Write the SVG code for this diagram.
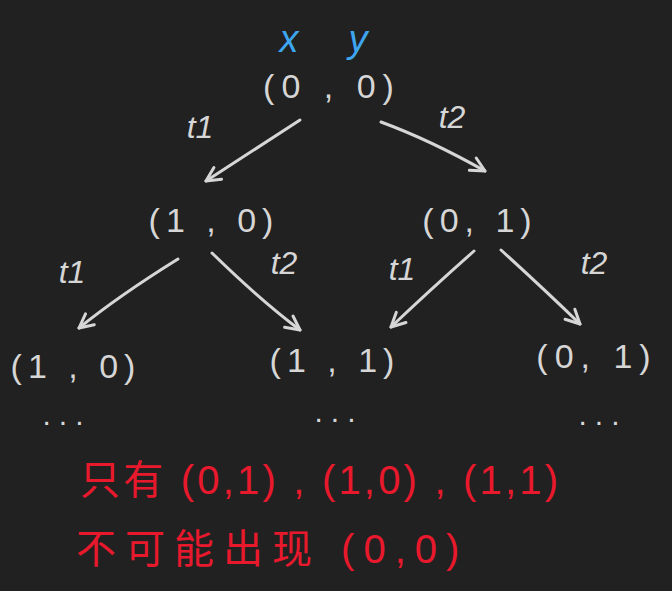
<svg xmlns="http://www.w3.org/2000/svg" width="672" height="591" viewBox="0 0 672 591">
<style>
.bg{fill:#212121}
.n{font-family:"Liberation Sans","Noto Sans",sans-serif;font-size:34px;fill:#d6d6d6;text-anchor:middle}
.lbl{font-family:"Liberation Sans","Noto Sans",sans-serif;font-size:32px;fill:#d6d6d6;text-anchor:middle;font-style:italic}
.ax{font-family:"Liberation Sans","Noto Sans",sans-serif;font-size:38px;fill:#3ea6f0;text-anchor:middle;font-style:italic}
.dots{font-family:"Liberation Sans",sans-serif;font-size:30px;fill:#d6d6d6;text-anchor:middle}
.red{font-family:"Liberation Sans","Noto Sans CJK SC",sans-serif;font-size:40px;fill:#e8192c}
.c{fill:none;stroke:#d6d6d6;stroke-width:3;stroke-linecap:round}
</style>
<defs>
<marker id="ah" viewBox="0 0 20 20" refX="18" refY="10" markerWidth="20" markerHeight="20" markerUnits="userSpaceOnUse" orient="auto">
<polyline points="4,3 18,10 4,17" fill="none" stroke="#d6d6d6" stroke-width="3" stroke-linecap="round" stroke-linejoin="round"/>
</marker>
</defs>
<rect class="bg" width="672" height="591"/>
<g id="axes">
<text class="ax" x="289" y="52">x</text>
<text class="ax" x="358" y="52">y</text>
</g>
<g id="n00">
<text class="n" x="332" y="98" letter-spacing="7">(0 , 0)</text>
</g>
<g id="n10">
<text class="n" x="214" y="232" letter-spacing="6">(1 , 0)</text>
</g>
<g id="n01">
<text class="n" x="480" y="232" letter-spacing="6">(0, 1)</text>
</g>
<g id="n10b">
<text class="n" x="76" y="378" letter-spacing="6">(1 , 0)</text>
<text class="dots" x="67" y="425" letter-spacing="8">...</text>
</g>
<g id="n11">
<text class="n" x="335" y="372" letter-spacing="6">(1 , 1)</text>
<text class="dots" x="339" y="422" letter-spacing="8">...</text>
</g>
<g id="n01b">
<text class="n" x="597" y="368" letter-spacing="7">(0, 1)</text>
<text class="dots" x="603" y="425" letter-spacing="8">...</text>
</g>
<g id="connectors">
<path class="c" d="M300,120 L206,181" marker-end="url(#ah)"/>
<path class="c" d="M381,122 Q430,140 485,171" marker-end="url(#ah)"/>
<path class="c" d="M178,259 Q120,295 79,328" marker-end="url(#ah)"/>
<path class="c" d="M212,253 Q260,300 300,330" marker-end="url(#ah)"/>
<path class="c" d="M474,251 Q430,290 391,327" marker-end="url(#ah)"/>
<path class="c" d="M501,250 Q545,290 580,324" marker-end="url(#ah)"/>
</g>
<g id="labels">
<text class="lbl" x="200" y="138">t1</text>
<text class="lbl" x="452" y="128">t2</text>
<text class="lbl" x="72" y="283">t1</text>
<text class="lbl" x="284" y="274">t2</text>
<text class="lbl" x="402" y="280">t1</text>
<text class="lbl" x="594" y="274">t2</text>
</g>
<g id="note">
<text class="red" x="80" y="494" letter-spacing="3.2">只有 (0,1) , (1,0) , (1,1)</text>
<text class="red" x="76" y="563" letter-spacing="9">不可能出现 (0,0)</text>
</g>
</svg>
